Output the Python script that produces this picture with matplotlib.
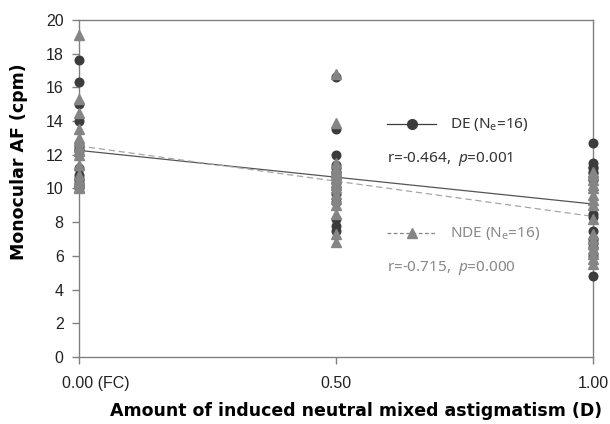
import numpy as np
import matplotlib
matplotlib.use("Agg")
import matplotlib.pyplot as plt
import matplotlib.transforms as mtransforms
from matplotlib.lines import Line2D

plt.rcParams['mathtext.fontset'] = 'custom'
plt.rcParams['mathtext.rm'] = 'Noto Sans'
plt.rcParams['mathtext.it'] = 'Noto Sans:italic'

# induced astigmatism levels (D)
levels = [0.0, 0.5, 1.0]
tick_labels = ['0.00 (FC)', '0.50', '1.00']

# monocular AF (cpm), 16 eyes per level
de_00 = [17.6, 16.3, 15.0, 14.0, 12.6, 12.4, 12.2, 12.3, 11.2, 10.8, 10.6, 10.5, 10.3, 10.2, 10.0, 10.1]
de_05 = [16.6, 13.5, 12.0, 11.4, 11.0, 11.2, 11.0, 10.8, 10.6, 10.3, 10.0, 9.7, 9.2, 8.2, 7.8, 7.5]
de_10 = [12.7, 11.5, 11.3, 11.0, 10.7, 11.2, 10.9, 10.5, 8.5, 8.3, 7.5, 7.0, 6.8, 6.5, 6.0, 4.8]

nde_00 = [19.1, 15.3, 14.5, 13.5, 13.0, 12.8, 12.5, 12.3, 12.0, 12.2, 11.4, 10.8, 10.5, 10.3, 10.1, 10.0]
nde_05 = [16.8, 13.9, 11.5, 11.2, 11.0, 10.8, 10.6, 10.4, 10.2, 10.0, 9.7, 9.4, 9.0, 8.5, 7.3, 6.8]
nde_10 = [11.0, 10.8, 10.5, 10.2, 10.0, 9.6, 9.3, 9.0, 8.2, 7.3, 7.0, 6.7, 6.4, 6.1, 5.8, 5.5]

de_r, de_p = -0.464, 0.001
nde_r, nde_p = -0.715, 0.000

dark = '#3c3c3c'
grey = '#858585'
light = '#a6a6a6'

fig = plt.figure(figsize=(6.10, 4.24), dpi=100)
ax = fig.add_axes([0.1295, 0.158, 0.8425, 0.795])

def xy(groups):
    x = np.concatenate([[lv] * len(g) for lv, g in zip(levels, groups)])
    y = np.concatenate(groups)
    return x, y

de_x, de_y = xy([de_00, de_05, de_10])
nde_x, nde_y = xy([nde_00, nde_05, nde_10])

# linear trend lines
xs = np.array([0.0, 1.0])
b, a = np.polyfit(de_x, de_y, 1)
ax.plot(xs, a + b * xs, color='#555555', lw=0.9, zorder=2)
b, a = np.polyfit(nde_x, nde_y, 1)
ax.plot(xs, a + b * xs, color=light, lw=0.9, ls=(0, (5, 3)), zorder=2)

ax.plot(de_x, de_y, 'o', color=dark, ms=6.2, mec=dark, zorder=3, clip_on=False)
ax.plot(nde_x, nde_y, '^', color=grey, ms=6.8, mec=grey, zorder=4, clip_on=False)

ax.set_xlim(0, 1)
ax.set_ylim(0, 20)
ax.set_yticks(range(0, 21, 2))
ax.set_xticks(levels)
ax.set_xticklabels(tick_labels)
for s in ax.spines.values():
    s.set_color('#808080')
    s.set_linewidth(1.0)
ax.tick_params(direction='out', length=5, width=1, color='#808080',
               labelsize=11.5, labelcolor='#222222', pad=6)
for lab in ax.get_xticklabels() + ax.get_yticklabels():
    lab.set_fontfamily('Liberation Sans')
ax.tick_params(axis='x', pad=9)
first = ax.get_xticklabels()[0]
first.set_ha('left')
first.set_transform(first.get_transform() +
                    mtransforms.ScaledTranslation(-17 / 100, 0, fig.dpi_scale_trans))

ax.set_ylabel('Monocular AF (cpm)', fontsize=12.5, fontweight='bold',
              family='DejaVu Sans')
ax.yaxis.set_label_coords(-0.10, 0.58)
ax.set_xlabel('Amount of induced neutral mixed astigmatism (D)', fontsize=12.5,
              fontweight='bold', family='DejaVu Sans')
ax.xaxis.set_label_coords(0.54, -0.133)

# key
tr = ax.transAxes
def key(y, marker, color, ls, label, txtcolor, r, p):
    ax.add_line(Line2D([0.600, 0.695], [y, y], transform=tr, color=color, ls=ls,
                       lw=0.9, clip_on=False))
    ax.add_line(Line2D([0.6475], [y], transform=tr, color=color, marker=marker,
                       ms=7, clip_on=False))
    ax.text(0.722, y, label, transform=tr, fontsize=11, color=txtcolor,
            family='Noto Sans', va='center')
    ax.text(0.600, y - 0.102, f'r={r:.3f},  $\\it{{p}}$={p:.3f}', transform=tr,
            fontsize=11, color=txtcolor, family='Noto Sans', va='center')

key(0.690, 'o', dark, '-', 'DE (N$_{\\mathrm{e}}$=16)', '#333333', de_r, de_p)
key(0.367, '^', grey, (0, (3, 2)), 'NDE (N$_{\\mathrm{e}}$=16)', '#888888', nde_r, nde_p)

fig.savefig('out.png', dpi=100)
